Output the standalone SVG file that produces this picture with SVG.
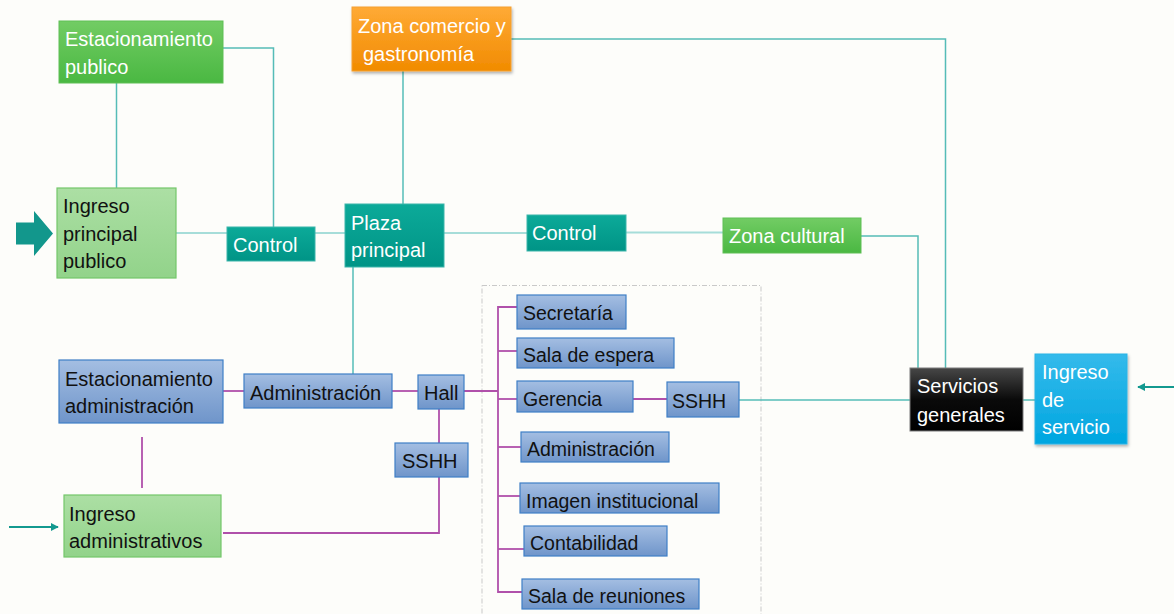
<svg xmlns="http://www.w3.org/2000/svg" width="1174" height="614" viewBox="0 0 1174 614">
  <defs>
    <linearGradient id="gGreen" x1="0" y1="0" x2="0" y2="1">
      <stop offset="0" stop-color="#72cc64"/>
      <stop offset="1" stop-color="#4ab842"/>
    </linearGradient>
    <linearGradient id="gLight" x1="0" y1="0" x2="0" y2="1">
      <stop offset="0" stop-color="#acdfa4"/>
      <stop offset="1" stop-color="#92d38a"/>
    </linearGradient>
    <linearGradient id="gTeal" x1="0" y1="0" x2="0" y2="1">
      <stop offset="0" stop-color="#0caa99"/>
      <stop offset="1" stop-color="#009486"/>
    </linearGradient>
    <linearGradient id="gOrange" x1="0" y1="0" x2="0" y2="1">
      <stop offset="0" stop-color="#ffaa36"/>
      <stop offset="1" stop-color="#f18b00"/>
    </linearGradient>
    <linearGradient id="gBlack" x1="0" y1="0" x2="0" y2="1">
      <stop offset="0" stop-color="#474747"/>
      <stop offset="0.5" stop-color="#0a0a0a"/>
      <stop offset="1" stop-color="#000000"/>
    </linearGradient>
    <linearGradient id="gCyan" x1="0" y1="0" x2="0" y2="1">
      <stop offset="0" stop-color="#34baeb"/>
      <stop offset="1" stop-color="#00a6e0"/>
    </linearGradient>
    <linearGradient id="gBlue" x1="0" y1="0" x2="0" y2="1">
      <stop offset="0" stop-color="#a4bee2"/>
      <stop offset="1" stop-color="#6f95ca"/>
    </linearGradient>
    <filter id="shadow" x="-10%" y="-10%" width="125%" height="130%">
      <feDropShadow dx="1" dy="2" stdDeviation="1.5" flood-color="#000" flood-opacity="0.3"/>
    </filter>
    <marker id="arrowTeal" viewBox="0 0 10 10" refX="9" refY="5" markerWidth="4" markerHeight="4" orient="auto">
      <path d="M0,0 L10,5 L0,10 z" fill="#13998f"/>
    </marker>
    <style>
      text { font-family: "Liberation Sans", Arial, sans-serif; font-size: 20px; }
      .w { fill: #ffffff; }
      .k { fill: #111111; }
      .sm { font-size: 19.5px; }
      .green { fill: url(#gGreen); stroke: #5fbf55; stroke-width: 1; }
      .light { fill: url(#gLight); stroke: #74c76a; stroke-width: 1.2; }
      .teal { fill: url(#gTeal); stroke: #3bb5aa; stroke-width: 1; }
      .orange { fill: url(#gOrange); stroke: #f5a030; stroke-width: 1; }
      .black { fill: url(#gBlack); stroke: #7a7a7a; stroke-width: 1; }
      .cyan { fill: url(#gCyan); stroke: #2ab3e6; stroke-width: 1; }
      .blue { fill: url(#gBlue); stroke: #3f7fc6; stroke-width: 1.2; }
      .lt { fill: none; stroke: #55bcb7; stroke-width: 1.5; }
      .lt2 { fill: none; stroke: #a6ddd9; stroke-width: 2; }
      .mg { fill: none; stroke: #b050aa; stroke-width: 1.8; }
      .in { fill: none; stroke: #13998f; stroke-width: 2; marker-end: url(#arrowTeal); }
    </style>
  </defs>

  <rect width="1174" height="614" fill="#fdfdfa"/>

  <!-- office area frame -->
  <rect x="482" y="285.5" width="279" height="340" fill="none" stroke="#c9c9c9" stroke-width="1" stroke-dasharray="5,2,1,2"/>

  <!-- connectors -->
  <g id="connectors">
    <!-- public circulation -->
    <path class="lt" d="M116.5,83 V188"/>
    <path class="lt" d="M223,48 H273.5 V227"/>
    <path class="lt2" d="M176,233 H227"/>
    <path class="lt2" d="M315,233 H345"/>
    <path class="lt" d="M403,71 V204"/>
    <path class="lt" d="M511,39 H945.5 V368"/>
    <path class="lt2" d="M444,233 H527"/>
    <path class="lt2" d="M626,232.5 H723"/>
    <path class="lt" d="M861,236 H918 V368"/>
    <path class="lt" d="M353,267 V374"/>
    <path class="lt" d="M739,400 H910"/>
    <path class="lt" d="M1023,400 H1035"/>
    <!-- administrative circulation -->
    <path class="mg" d="M223,391 H244"/>
    <path class="mg" d="M392,391 H418"/>
    <path class="mg" d="M439,409 V443"/>
    <path class="mg" d="M439,477 V533 H223"/>
    <path class="mg" d="M142,437 V488"/>
    <path class="mg" d="M464,391 H498"/>
    <path class="mg" d="M517,307 H498 V592 H522"/>
    <path class="mg" d="M498,351 H517"/>
    <path class="mg" d="M498,399 H517"/>
    <path class="mg" d="M633,399 H667"/>
    <path class="mg" d="M498,447 H521"/>
    <path class="mg" d="M498,496 H520"/>
    <path class="mg" d="M498,549 H524"/>
    <!-- entry arrows -->
    <path d="M16,222.5 H34 V211 L53,233.5 L34,256 V244.5 H16 z" fill="#12978c"/>
    <path class="in" d="M9,527 H58"/>
    <path class="in" d="M1174,387 H1138"/>
  </g>

  <g id="estacionamiento-publico">
    <rect class="green" x="59" y="21" width="164" height="62"/>
    <text class="w" x="65" y="46">Estacionamiento</text>
    <text class="w" x="65" y="74">publico</text>
  </g>

  <g id="zona-comercio">
    <rect class="orange" x="352" y="7" width="159" height="64" filter="url(#shadow)"/>
    <text class="w" x="358" y="33">Zona comercio y</text>
    <text class="w" x="363" y="61">gastronomía</text>
  </g>

  <g id="ingreso-principal">
    <rect class="light" x="57" y="188" width="119" height="90"/>
    <text class="k" x="63" y="213">Ingreso</text>
    <text class="k" x="63" y="241">principal</text>
    <text class="k" x="63" y="268">publico</text>
  </g>

  <g id="control-1">
    <rect class="teal" x="227" y="227" width="88" height="34"/>
    <text class="w" x="233" y="252">Control</text>
  </g>

  <g id="plaza-principal">
    <rect class="teal" x="345" y="204" width="99" height="63"/>
    <text class="w" x="351" y="230">Plaza</text>
    <text class="w" x="351" y="257">principal</text>
  </g>

  <g id="control-2">
    <rect class="teal" x="527" y="215" width="99" height="36"/>
    <text class="w" x="532" y="240">Control</text>
  </g>

  <g id="zona-cultural">
    <rect class="green" x="723" y="218" width="138" height="35"/>
    <text class="w" x="729" y="243">Zona cultural</text>
  </g>

  <g id="servicios-generales">
    <rect class="black" x="910" y="368" width="113" height="63"/>
    <text class="w" x="917" y="393">Servicios</text>
    <text class="w" x="917" y="422">generales</text>
  </g>

  <g id="ingreso-servicio">
    <rect class="cyan" x="1035" y="354" width="92" height="90" filter="url(#shadow)"/>
    <text class="w" x="1042" y="379">Ingreso</text>
    <text class="w" x="1042" y="407">de</text>
    <text class="w" x="1042" y="434">servicio</text>
  </g>

  <g id="estacionamiento-administracion">
    <rect class="blue" x="59" y="360" width="164" height="63"/>
    <text class="k" x="65" y="386">Estacionamiento</text>
    <text class="k" x="65" y="413">administración</text>
  </g>

  <g id="administracion">
    <rect class="blue" x="244" y="374" width="148" height="34"/>
    <text class="k" x="250" y="400">Administración</text>
  </g>

  <g id="hall">
    <rect class="blue" x="418" y="375" width="46" height="34"/>
    <text class="k" x="424" y="400">Hall</text>
  </g>

  <g id="sshh-hall">
    <rect class="blue" x="395" y="443" width="73" height="34"/>
    <text class="k" x="402" y="468">SSHH</text>
  </g>

  <g id="ingreso-administrativos">
    <rect class="light" x="64" y="495" width="157" height="62"/>
    <text class="k" x="69" y="521">Ingreso</text>
    <text class="k" x="69" y="548">administrativos</text>
  </g>

  <g id="secretaria">
    <rect class="blue" x="517" y="295" width="109" height="34"/>
    <text class="k sm" x="523" y="320">Secretaría</text>
  </g>

  <g id="sala-espera">
    <rect class="blue" x="517" y="338" width="157" height="30"/>
    <text class="k sm" x="523" y="362">Sala de espera</text>
  </g>

  <g id="gerencia">
    <rect class="blue" x="517" y="381" width="116" height="31"/>
    <text class="k sm" x="523" y="406">Gerencia</text>
  </g>

  <g id="sshh-gerencia">
    <rect class="blue" x="667" y="382" width="72" height="35"/>
    <text class="k sm" x="672" y="408">SSHH</text>
  </g>

  <g id="administracion-oficina">
    <rect class="blue" x="521" y="432" width="148" height="30"/>
    <text class="k sm" x="527" y="456">Administración</text>
  </g>

  <g id="imagen-institucional">
    <rect class="blue" x="520" y="483" width="199" height="30"/>
    <text class="k sm" x="526" y="508">Imagen institucional</text>
  </g>

  <g id="contabilidad">
    <rect class="blue" x="524" y="526" width="143" height="30"/>
    <text class="k sm" x="530" y="550">Contabilidad</text>
  </g>

  <g id="sala-reuniones">
    <rect class="blue" x="522" y="579" width="177" height="30"/>
    <text class="k sm" x="528" y="603">Sala de reuniones</text>
  </g>
</svg>
